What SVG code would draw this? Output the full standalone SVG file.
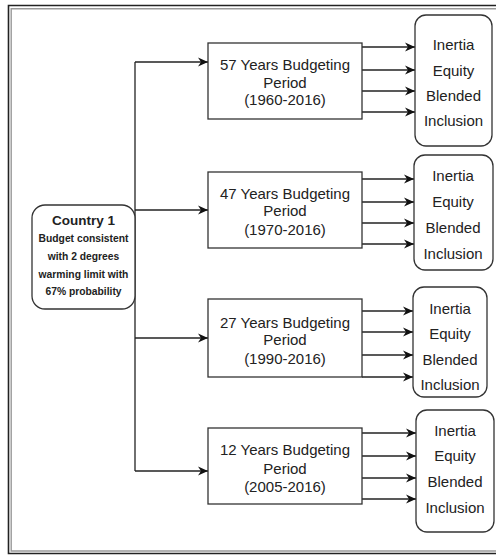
<svg xmlns="http://www.w3.org/2000/svg" width="496" height="556" viewBox="0 0 496 556">
<style>
.box{fill:#fff;stroke:#333;stroke-width:1.3}
.rbox{fill:#fff;stroke:#333;stroke-width:1.3}
.lbl{font-family:"Liberation Sans",Arial,sans-serif;font-size:15px;fill:#222;text-anchor:middle}
.sm{font-family:"Liberation Sans",Arial,sans-serif;font-size:10.3px;font-weight:bold;fill:#222;text-anchor:middle}
.ttl{font-family:"Liberation Sans",Arial,sans-serif;font-size:13.5px;font-weight:bold;fill:#222;text-anchor:middle}
.edge{fill:none;stroke:#222;stroke-width:1.3}
.arr{marker-end:url(#ah)}
</style>
<defs>
<marker id="ah" markerUnits="userSpaceOnUse" markerWidth="12" markerHeight="10" refX="10" refY="5" orient="auto">
<path d="M0,0.5 L10,5 L0,9.5 L3,5 Z" fill="#111"/>
</marker>
</defs>
<rect x="0" y="0" width="496" height="556" fill="#fff"/>
<g id="frame">
<path d="M496,5.5 H8.5 V553.5 H496" fill="none" stroke="#222" stroke-width="1.6"/>
<path d="M496,8.7 H11.2 V551 H496" fill="none" stroke="#999" stroke-width="1.4"/>
</g>
<g id="connectors">
<path class="edge" d="M135,62 V471"/>
<path class="edge arr" d="M135,62 H208"/>
<path class="edge arr" d="M135,210 H208"/>
<path class="edge arr" d="M135,338 H208"/>
<path class="edge arr" d="M135,471 H208"/>
<path class="edge arr" d="M362,47 H415"/>
<path class="edge arr" d="M362,70 H415"/>
<path class="edge arr" d="M362,91 H415"/>
<path class="edge arr" d="M362,112 H415"/>
<path class="edge arr" d="M362,179 H414"/>
<path class="edge arr" d="M362,202 H414"/>
<path class="edge arr" d="M362,223 H414"/>
<path class="edge arr" d="M362,244 H414"/>
<path class="edge arr" d="M362,311 H413"/>
<path class="edge arr" d="M362,332 H413"/>
<path class="edge arr" d="M362,355 H413"/>
<path class="edge arr" d="M362,377 H413"/>
<path class="edge arr" d="M362,433 H416"/>
<path class="edge arr" d="M362,456 H416"/>
<path class="edge arr" d="M362,478 H416"/>
<path class="edge arr" d="M362,499 H416"/>
</g>
<g id="country">
<rect class="rbox" x="32" y="205" width="103" height="104" rx="13"/>
<text class="ttl" x="83.5" y="225">Country 1</text>
<text class="sm" x="83.5" y="241.7">Budget consistent</text>
<text class="sm" x="83.5" y="260.2">with 2 degrees</text>
<text class="sm" x="83.5" y="277.7">warming limit with</text>
<text class="sm" x="83.5" y="295.4">67% probability</text>
</g>
<g id="period57">
<rect class="box" x="208" y="43" width="154" height="76"/>
<text class="lbl" x="285" y="70.4">57 Years Budgeting</text>
<text class="lbl" x="285" y="87.5">Period</text>
<text class="lbl" x="285" y="105.2">(1960-2016)</text>
</g>
<g id="out57">
<rect class="rbox" x="415" y="15" width="77" height="131" rx="11"/>
<text class="lbl" x="453.5" y="49.5">Inertia</text>
<text class="lbl" x="453.5" y="75.5">Equity</text>
<text class="lbl" x="453.5" y="101.3">Blended</text>
<text class="lbl" x="453.5" y="126.3">Inclusion</text>
</g>
<g id="period47">
<rect class="box" x="208" y="172" width="154" height="76"/>
<text class="lbl" x="285" y="198.7">47 Years Budgeting</text>
<text class="lbl" x="285" y="216.4">Period</text>
<text class="lbl" x="285" y="234.7">(1970-2016)</text>
</g>
<g id="out47">
<rect class="rbox" x="414" y="155" width="79" height="115" rx="11"/>
<text class="lbl" x="453" y="181.4">Inertia</text>
<text class="lbl" x="453" y="207">Equity</text>
<text class="lbl" x="453" y="232.7">Blended</text>
<text class="lbl" x="453" y="258.7">Inclusion</text>
</g>
<g id="period27">
<rect class="box" x="208" y="299" width="154" height="78"/>
<text class="lbl" x="285" y="328">27 Years Budgeting</text>
<text class="lbl" x="285" y="345.4">Period</text>
<text class="lbl" x="285" y="363.7">(1990-2016)</text>
</g>
<g id="out27">
<rect class="rbox" x="413" y="287" width="74" height="110" rx="11"/>
<text class="lbl" x="450" y="313.7">Inertia</text>
<text class="lbl" x="450" y="338.7">Equity</text>
<text class="lbl" x="450" y="365.4">Blended</text>
<text class="lbl" x="450" y="390.4">Inclusion</text>
</g>
<g id="period12">
<rect class="box" x="208" y="428" width="154" height="76"/>
<text class="lbl" x="285" y="455.4">12 Years Budgeting</text>
<text class="lbl" x="285" y="473.7">Period</text>
<text class="lbl" x="285" y="492">(2005-2016)</text>
</g>
<g id="out12">
<rect class="rbox" x="416" y="410" width="78" height="122" rx="11"/>
<text class="lbl" x="455" y="436">Inertia</text>
<text class="lbl" x="455" y="461.4">Equity</text>
<text class="lbl" x="455" y="487">Blended</text>
<text class="lbl" x="455" y="512.7">Inclusion</text>
</g>
</svg>
